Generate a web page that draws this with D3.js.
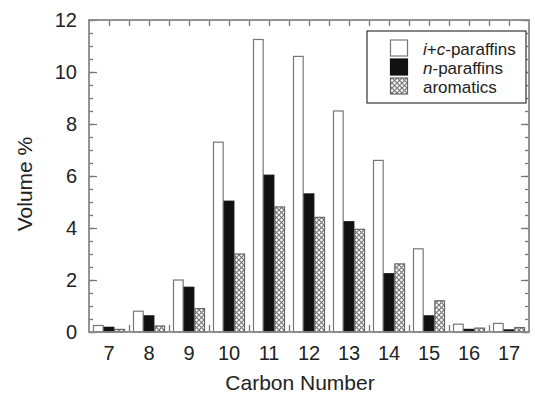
<!DOCTYPE html>
<html>
<head>
<meta charset="utf-8">
<script src="https://cdn.jsdelivr.net/npm/d3@7"></script>
<style>
  body { margin: 0; background: #fff; }
  text { font-family: "Liberation Sans", Arial, sans-serif; fill: #222; }
</style>
</head>
<body>
<div id="chart"></div>
<script>
// The data
var categories = ['7', '8', '9', '10', '11', '12', '13', '14', '15', '16', '17'];
var seriesNames = ['i+c-paraffins', 'n-paraffins', 'aromatics'];
var icParaffins = [0.25, 0.8, 2.0, 7.3, 11.25, 10.6, 8.5, 6.6, 3.2, 0.3, 0.33];
var nParaffins  = [0.18, 0.62, 1.72, 5.03, 6.03, 5.31, 4.24, 2.24, 0.62, 0.1, 0.08];
var aromatics   = [0.1, 0.23, 0.9, 3.0, 4.81, 4.41, 3.95, 2.62, 1.2, 0.15, 0.17];
var yTicks = [0, 2, 4, 6, 8, 10, 12];

var seriesValues = [icParaffins, nParaffins, aromatics];

// Chart dimensions
var width = 535, height = 396;
var plot = { left: 89, right: 529, top: 20, bottom: 332 };

var svg = d3.select('#chart').append('svg')
    .attr('width', width)
    .attr('height', height);

// cross hatch pattern for aromatics
var pat = svg.append('defs').append('pattern')
    .attr('id', 'xhatch')
    .attr('patternUnits', 'userSpaceOnUse')
    .attr('width', 5)
    .attr('height', 5);
pat.append('rect').attr('width', 5).attr('height', 5).attr('fill', '#fff');
pat.append('path')
    .attr('d', 'M0,0L5,5M5,0L0,5')
    .attr('stroke', '#777')
    .attr('stroke-width', 1.2);

var fills = ['#fff', '#111', 'url(#xhatch)'];
var strokes = ['#777', '#111', '#666'];

// Scales
var x0 = d3.scaleBand()
    .domain(categories)
    .range([plot.left, plot.right]);

var x1 = d3.scaleBand()
    .domain(d3.range(seriesNames.length))
    .range([4, x0.bandwidth() - 4]);

// continuous version of the category axis, for the tick marks
var xc = d3.scaleLinear()
    .domain([6.5, 17.5])
    .range([plot.left, plot.right]);

var y = d3.scaleLinear()
    .domain([0, 12])
    .range([plot.bottom, plot.top]);

// Bars
var groups = svg.selectAll('g.group')
    .data(categories)
    .enter()
  .append('g')
    .attr('class', 'group')
    .attr('transform', function(d) { return 'translate(' + x0(d) + ',0)'; });

groups.selectAll('rect')
    .data(function(d, i) { return seriesValues.map(function(s, j) { return { s: j, v: s[i] }; }); })
    .enter()
  .append('rect')
    .attr('x', function(d) { return x1(d.s) + 0.5; })
    .attr('y', function(d) { return y(d.v); })
    .attr('width', x1.bandwidth() - 1)
    .attr('height', function(d) { return plot.bottom - y(d.v); })
    .attr('fill', function(d) { return fills[d.s]; })
    .attr('stroke', function(d) { return strokes[d.s]; })
    .attr('stroke-width', 1.2);

// Axes: ticks all point inward
var minorY = d3.range(0, 12.01, 0.5);

svg.append('g')
    .attr('class', 'axis')
    .attr('transform', 'translate(' + plot.left + ',0)')
    .call(d3.axisLeft(y).tickValues(minorY).tickSize(-4).tickFormat(''));

svg.append('g')
    .attr('class', 'axis ylab')
    .attr('transform', 'translate(' + plot.left + ',0)')
    .call(d3.axisLeft(y).tickValues(yTicks).tickSize(-8).tickPadding(12).tickFormat(d3.format('d')));

svg.append('g')
    .attr('class', 'axis')
    .attr('transform', 'translate(' + plot.right + ',0)')
    .call(d3.axisRight(y).tickValues(minorY).tickSize(-4).tickFormat(''));

svg.append('g')
    .attr('class', 'axis')
    .attr('transform', 'translate(' + plot.right + ',0)')
    .call(d3.axisRight(y).tickValues(yTicks).tickSize(-8).tickFormat(''));

svg.append('g')
    .attr('class', 'axis')
    .attr('transform', 'translate(0,' + plot.top + ')')
    .call(d3.axisTop(xc).tickValues(d3.range(7, 17.01, 0.5)).tickSize(-6).tickFormat(''));

svg.append('g')
    .attr('class', 'axis')
    .attr('transform', 'translate(0,' + plot.bottom + ')')
    .call(d3.axisBottom(xc).tickValues(d3.range(7.5, 17, 1)).tickSize(-7).tickFormat(''));

svg.append('g')
    .attr('class', 'axis xlab')
    .attr('transform', 'translate(0,' + plot.bottom + ')')
    .call(d3.axisBottom(x0).tickSize(0).tickPadding(14));

svg.selectAll('.axis .domain').remove();
svg.selectAll('.axis line').attr('stroke', '#777').attr('stroke-width', 1.3);
svg.selectAll('.ylab text, .xlab text')
    .style('font-size', '20px')
    .style('font-family', '"Liberation Sans", Arial, sans-serif')
    .attr('fill', '#222');

// Frame
svg.append('rect')
    .attr('x', plot.left)
    .attr('y', plot.top)
    .attr('width', plot.right - plot.left)
    .attr('height', plot.bottom - plot.top)
    .attr('fill', 'none')
    .attr('stroke', '#888')
    .attr('stroke-width', 1.8);

// Axis titles
svg.append('text')
    .attr('x', 300)
    .attr('y', 390)
    .attr('text-anchor', 'middle')
    .style('font-size', '21px')
    .text('Carbon Number');

svg.append('text')
    .attr('transform', 'translate(32,184) rotate(-90)')
    .attr('text-anchor', 'middle')
    .style('font-size', '21px')
    .text('Volume %');

// Legend
var legend = svg.append('g').attr('transform', 'translate(367,31)');

legend.append('rect')
    .attr('width', 159)
    .attr('height', 72)
    .attr('fill', '#fff')
    .attr('stroke', '#333')
    .attr('stroke-width', 1.2);

var items = legend.selectAll('g.item')
    .data(seriesNames)
    .enter()
  .append('g')
    .attr('class', 'item')
    .attr('transform', function(d, i) { return 'translate(0,' + (9 + i * 19) + ')'; });

items.append('rect')
    .attr('x', 23.5)
    .attr('width', 17)
    .attr('height', 16)
    .attr('fill', function(d, i) { return fills[i]; })
    .attr('stroke', function(d, i) { return strokes[i]; })
    .attr('stroke-width', 1.2);

// italic prefixes (i, c, n) as in the original
var legText = items.append('text')
    .attr('x', 56)
    .attr('y', 15)
    .style('font-size', '17px');

legText.each(function(d) {
  var t = d3.select(this);
  if (d === 'i+c-paraffins') {
    t.append('tspan').style('font-style', 'italic').text('i');
    t.append('tspan').text('+');
    t.append('tspan').style('font-style', 'italic').text('c');
    t.append('tspan').text('-paraffins');
  } else if (d === 'n-paraffins') {
    t.append('tspan').style('font-style', 'italic').text('n');
    t.append('tspan').text('-paraffins');
  } else {
    t.text(d);
  }
});
</script>
</body>
</html>
